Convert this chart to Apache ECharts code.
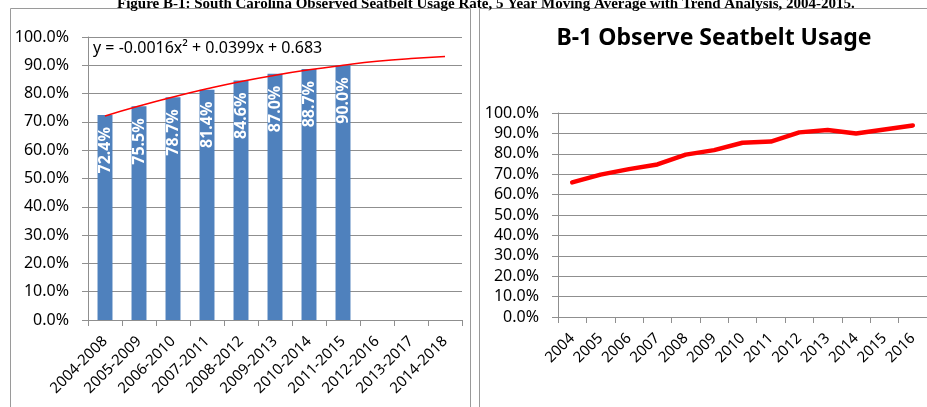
<!DOCTYPE html>
<html>
<head>
<meta charset="utf-8">
<title>Seatbelt usage</title>
<script src="https://cdn.jsdelivr.net/npm/echarts@6/dist/echarts.min.js"></script>
<style>
    html, body { margin: 0; padding: 0; background: #fff; }
    #chart { width: 927px; height: 407px; }
</style>
</head>
<body>
<div id="chart"></div>
<script>
// left chart: 5 year moving average
var periods = ['2004-2008', '2005-2009', '2006-2010', '2007-2011', '2008-2012', '2009-2013',
    '2010-2014', '2011-2015', '2012-2016', '2013-2017', '2014-2018'];
var movingAvg = [72.4, 75.5, 78.7, 81.4, 84.6, 87.0, 88.7, 90.0];
// trend line
var trendValues = [72.1, 75.6, 78.8, 81.7, 84.3, 86.5, 88.4, 90.0, 91.4, 92.4, 93.1];
var trendLabel = 'y = -0.0016x\u00b2 + 0.0399x + 0.683';

// right chart: yearly observed usage
var years = ['2004', '2005', '2006', '2007', '2008', '2009', '2010', '2011', '2012', '2013', '2014', '2015', '2016'];
var usage = [66.0, 69.8, 72.5, 74.8, 79.6, 81.8, 85.4, 86.0, 90.5, 91.7, 90.0, 91.9, 93.9];

var FONT = 'Noto Sans';
var GRID_COLOR = '#8f8f8f';

function pct(v) {
    return v.toFixed(1) + '%';
}

function valueAxis(gridIndex) {
    return {
        type: 'value',
        gridIndex: gridIndex,
        min: 0,
        max: 100,
        interval: 10,
        axisLine: { show: true, lineStyle: { color: GRID_COLOR } },
        axisTick: { show: true, length: 6, lineStyle: { color: GRID_COLOR } },
        splitLine: { show: true, lineStyle: { color: GRID_COLOR, width: 1 } },
        axisLabel: { formatter: pct, color: '#000', fontFamily: FONT, fontSize: 16, margin: 19 }
    };
}

function categoryAxis(gridIndex, data) {
    return {
        type: 'category',
        gridIndex: gridIndex,
        data: data,
        boundaryGap: true,
        axisLine: { show: true, lineStyle: { color: GRID_COLOR } },
        axisTick: { show: true, length: 6, alignWithLabel: false, lineStyle: { color: GRID_COLOR } },
        axisLabel: { interval: 0, rotate: 45, color: '#000', fontFamily: FONT, fontSize: 15, margin: 19 }
    };
}

var myChart = echarts.init(document.getElementById('chart'), null, { renderer: 'canvas' });

var option = {
    animation: false,
    backgroundColor: '#fff',
    title: [{
        text: 'B-1 Observe Seatbelt Usage',
        left: 709,
        top: 22,
        textAlign: 'center',
        textStyle: { fontFamily: FONT, fontSize: 23, fontWeight: 'bold', color: '#000' }
    }],
    graphic: [
        // chart frames
        { type: 'rect', shape: { x: 10.5, y: 8.5, width: 460, height: 420 }, style: { fill: 'none', stroke: '#9a9a9a', lineWidth: 1 }, z: 0 },
        { type: 'rect', shape: { x: 479.5, y: 8.5, width: 470, height: 420 }, style: { fill: 'none', stroke: '#9a9a9a', lineWidth: 1 }, z: 0 },
        // figure caption, cut by the top edge
        {
            type: 'text', left: 117, top: -3, z: 10,
            style: {
                text: 'Figure B-1: South Carolina Observed Seatbelt Usage Rate, 5 Year Moving Average with Trend Analysis, 2004-2015.',
                font: 'bold 15px "Liberation Serif"', fill: '#000'
            }
        },
        // trend equation
        {
            type: 'text', left: 93, top: 40, z: 10,
            style: { text: trendLabel, font: '16px "Noto Sans"', fill: '#000' }
        }
    ],
    grid: [
        { left: 88, right: 465, top: 37, bottom: 87, containLabel: false },
        { left: 558, right: 0, top: 113, bottom: 90, containLabel: false }
    ],
    xAxis: [categoryAxis(0, periods), categoryAxis(1, years)],
    yAxis: [valueAxis(0), valueAxis(1)],
    series: [{
        name: '5 Year Moving Average',
        type: 'bar',
        xAxisIndex: 0,
        yAxisIndex: 0,
        data: movingAvg,
        barWidth: '44%',
        itemStyle: { color: '#4f81bd' },
        label: {
            show: true,
            position: 'insideTop',
            distance: 12,
            rotate: 90,
            align: 'right',
            verticalAlign: 'middle',
            formatter: function (p) { return pct(p.value); },
            color: '#fff',
            fontFamily: FONT,
            fontSize: 16,
            fontWeight: 'bold'
        },
        z: 2
    }, {
        name: 'Trend',
        type: 'line',
        xAxisIndex: 0,
        yAxisIndex: 0,
        data: trendValues,
        symbol: 'none',
        smooth: true,
        lineStyle: { color: '#ff0000', width: 1.5 },
        z: 3
    }, {
        name: 'Observed Usage',
        type: 'line',
        xAxisIndex: 1,
        yAxisIndex: 1,
        data: usage,
        symbol: 'none',
        lineStyle: { color: '#ff0000', width: 4.5, cap: 'round', join: 'round' },
        z: 3
    }]
};

if (option && typeof option === 'object') {
    myChart.setOption(option, true);
}
</script>
</body>
</html>
